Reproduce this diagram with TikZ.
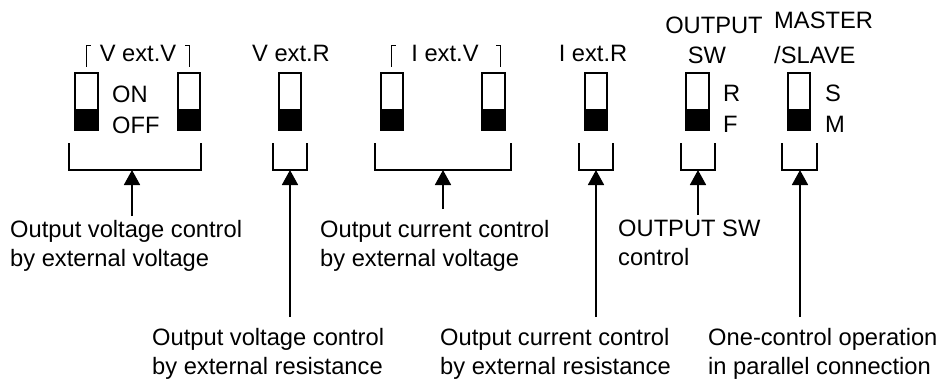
\documentclass[tikz,border=0pt]{standalone}
\usepackage{fontspec}
\setmainfont{Liberation Sans}
\usetikzlibrary{arrows.meta}
\begin{document}
\begin{tikzpicture}[x=1pt,y=-1pt,
  every node/.style={inner sep=0pt, font=\fontsize{23.7}{29}\selectfont},
  switchbox/.style={draw, line width=1.6pt, minimum width=22.5pt, minimum height=57.5pt,
    path picture={\fill (path picture bounding box.south west) rectangle ([yshift=21.5pt]path picture bounding box.south east);}},
  bracketline/.style={line width=1.5pt},
  cornerline/.style={line width=1.6pt},
  arrowline/.style={line width=1.8pt, -{Triangle[width=16pt,length=15pt]}},
  lbl/.style={anchor=north west, align=left}]
\useasboundingbox (0,0) rectangle (942,383);
% switches
\node[switchbox] (sw1) at (86.5,101.5) {};
\node[switchbox] (sw2) at (189,101.5) {};
\node[switchbox] (sw3) at (290,101.5) {};
\node[switchbox] (sw4) at (392,101.5) {};
\node[switchbox] (sw5) at (493.5,101.5) {};
\node[switchbox] (sw6) at (596,101.5) {};
\node[switchbox] (sw7) at (697.5,101.5) {};
\node[switchbox] (sw8) at (799,101.5) {};
% top labels
\draw[cornerline] (86.5,66.5) -- (86.5,45.5) -- (91,45.5);
\node[anchor=base] (t1) at (138,61) {V ext.V};
\draw[cornerline] (185,45.5) -- (189.5,45.5) -- (189.5,66.5);
\node[anchor=base] (t2) at (291,61) {V ext.R};
\draw[cornerline] (391.5,66.5) -- (391.5,45.5) -- (396,45.5);
\node[anchor=base] (t3) at (445,61) {I ext.V};
\draw[cornerline] (496,45.5) -- (500.5,45.5) -- (500.5,66.5);
\node[anchor=base] (t4) at (593,61) {I ext.R};
\node[anchor=base] (t5a) at (714,33) {OUTPUT};
\node[anchor=base] (t5b) at (707,63) {SW};
\node[anchor=base west] (t6a) at (774,28) {MASTER};
\node[anchor=base west] (t6b) at (774,63) {/SLAVE};
% switch position labels
\node[anchor=base west] (on) at (112,102) {ON};
\node[anchor=base west] (off) at (112,133) {OFF};
\node[anchor=base west] (r) at (723,101) {R};
\node[anchor=base west] (f) at (723,132) {F};
\node[anchor=base west] (s) at (825,101) {S};
\node[anchor=base west] (m) at (825,132) {M};
% brackets
\draw[bracketline] (69,143) -- (69,170) -- (201,170) -- (201,143);
\draw[bracketline] (273,143) -- (273,170) -- (307,170) -- (307,143);
\draw[bracketline] (375,143) -- (375,170) -- (511,170) -- (511,143);
\draw[bracketline] (579,143) -- (579,170) -- (613,170) -- (613,143);
\draw[bracketline] (681,143) -- (681,170) -- (715,170) -- (715,143);
\draw[bracketline] (782,143) -- (782,170) -- (817,170) -- (817,143);
\coordinate (b1) at (132,170);
\coordinate (b2) at (290,170);
\coordinate (b3) at (443,170);
\coordinate (b4) at (596,170);
\coordinate (b5) at (698,170);
\coordinate (b6) at (800,170);
\coordinate (e1) at (132,216);
\coordinate (e2) at (290,317);
\coordinate (e3) at (443,209);
\coordinate (e4) at (596,317);
\coordinate (e5) at (698,215);
\coordinate (e6) at (800,317);
% description labels
\node[lbl] (d1) at (10,220) {Output voltage control\\by external voltage};
\node[lbl] (d2) at (152,328) {Output voltage control\\by external resistance};
\node[lbl] (d3) at (320,220) {Output current control\\by external voltage};
\node[lbl] (d4) at (440,328) {Output current control\\by external resistance};
\node[lbl] (d5) at (618,220) {OUTPUT SW\\control};
\node[lbl] (d6) at (708,328) {One-control operation\\in parallel connection};
% arrows
\draw[arrowline] (e1) -- (b1);
\draw[arrowline] (e2) -- (b2);
\draw[arrowline] (e3) -- (b3);
\draw[arrowline] (e4) -- (b4);
\draw[arrowline] (e5) -- (b5);
\draw[arrowline] (e6) -- (b6);
\end{tikzpicture}
\end{document}
